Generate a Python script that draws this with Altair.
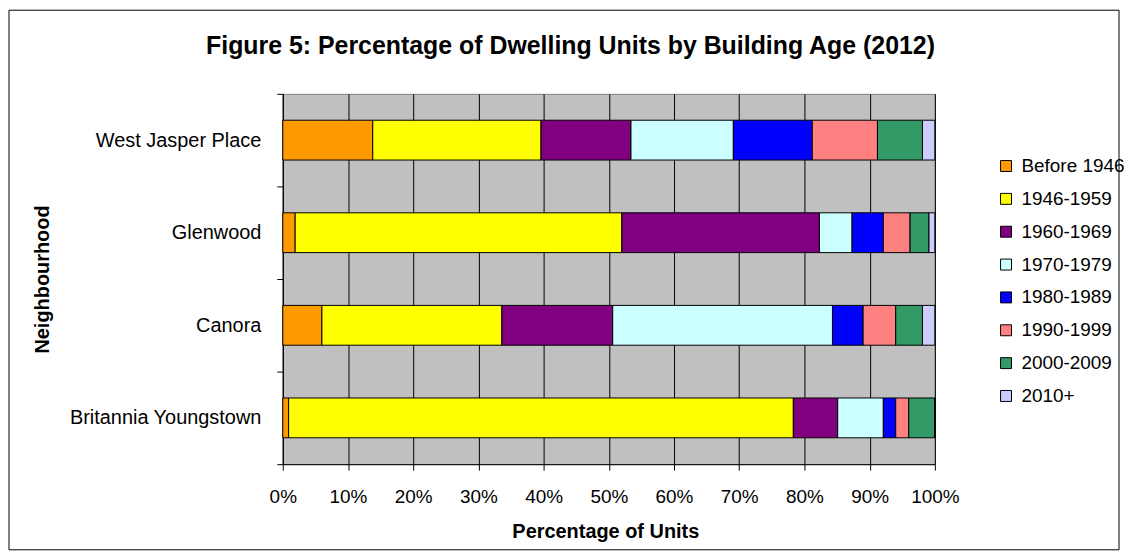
import altair as alt
import pandas as pd

FONT = "Liberation Sans"

neighbourhoods = ["West Jasper Place", "Glenwood", "Canora", "Britannia Youngstown"]
periods = ["Before 1946", "1946-1959", "1960-1969", "1970-1979",
           "1980-1989", "1990-1999", "2000-2009", "2010+"]
colors = ["#FF9900", "#FFFF00", "#800080", "#CCFFFF",
          "#0000FF", "#FF8080", "#339966", "#CCCCFF"]

west_jasper_place = [13.8, 25.8, 13.8, 15.7, 12.1, 10.0, 6.9, 1.9]
glenwood = [1.9, 50.1, 30.3, 5.0, 4.8, 4.1, 2.9, 0.9]
canora = [6.0, 27.6, 17.0, 33.7, 4.7, 5.0, 4.1, 1.9]
britannia_youngstown = [0.9, 77.4, 6.8, 7.0, 1.9, 2.0, 4.0, 0.0]

x_ticks = [0, 10, 20, 30, 40, 50, 60, 70, 80, 90, 100]
title_text = "Figure 5: Percentage of Dwelling Units by Building Age (2012)"

series = {
    "West Jasper Place": west_jasper_place,
    "Glenwood": glenwood,
    "Canora": canora,
    "Britannia Youngstown": britannia_youngstown,
}
rows = []
for n in neighbourhoods:
    for i, p in enumerate(periods):
        rows.append({"neighbourhood": n, "period": p, "pct": series[n][i], "ord": i})
df = pd.DataFrame(rows)

W, H = 655, 372

bars = alt.Chart(df).mark_bar(
    stroke="black", strokeWidth=1, opacity=1, height={"band": 0.43}
).encode(
    x=alt.X("pct:Q", stack="zero",
            scale=alt.Scale(domain=[0, 100], nice=False, zero=True),
            axis=alt.Axis(values=x_ticks, labelExpr="datum.value + '%'",
                          labelOverlap=False, labelFlush=False,
                          title="Percentage of Units", grid=True,
                          gridColor="#000000", gridWidth=1, gridOpacity=1,
                          domainColor="#000000", tickColor="#000000",
                          tickSize=6, labelPadding=18, labelFontSize=19,
                          titleBaseline="alphabetic", titleY=74, titleX=324)),
    y=alt.Y("neighbourhood:N", sort=neighbourhoods,
            scale=alt.Scale(paddingInner=0, paddingOuter=0),
            axis=alt.Axis(title="Neighbourhood", grid=False, tickBand="extent",
                          domainColor="#000000", tickColor="#000000",
                          tickSize=6, labelPadding=16, labelFontSize=20,
                          labelLimit=400,
                          titleAngle=270, titleX=-235, titleY=186,
                          titleAlign="center", titleBaseline="alphabetic")),
    color=alt.Color("period:N", sort=periods,
                    scale=alt.Scale(domain=periods, range=colors),
                    legend=alt.Legend(title=None, orient="none", legendX=717, legendY=63,
                                      symbolType="square", symbolSize=121,
                                      symbolStrokeColor="black", symbolStrokeWidth=1,
                                      symbolOpacity=1, labelFontSize=19, labelFont=FONT,
                                      labelColor="#000000", labelOffset=6,
                                      labelLimit=200, rowPadding=13, padding=0)),
    order=alt.Order("ord:Q"),
)

one = alt.Data(values=[{"k": 1}])

border = alt.Chart(one).mark_rect(filled=False, stroke="#000000", strokeWidth=1).encode(
    x=alt.value(-275), x2=alt.value(840), y=alt.value(-84), y2=alt.value(458)
)

title = alt.Chart(one).mark_text(
    text=title_text, font=FONT, fontSize=25, fontWeight="bold",
    align="center", baseline="alphabetic", color="#000000"
).encode(x=alt.value(289), y=alt.value(-40))

chart = alt.layer(border, bars, title).properties(
    width=W, height=H, padding=0, background="white"
).configure_view(
    fill="#C0C0C0", stroke="#808080", strokeWidth=1
).configure_axis(
    labelFont=FONT, titleFont=FONT, labelColor="#000000", titleColor="#000000",
    titleFontSize=20, titleFontWeight="bold"
)

chart.save("out.html", embed_options={"renderer": "svg", "actions": False})
